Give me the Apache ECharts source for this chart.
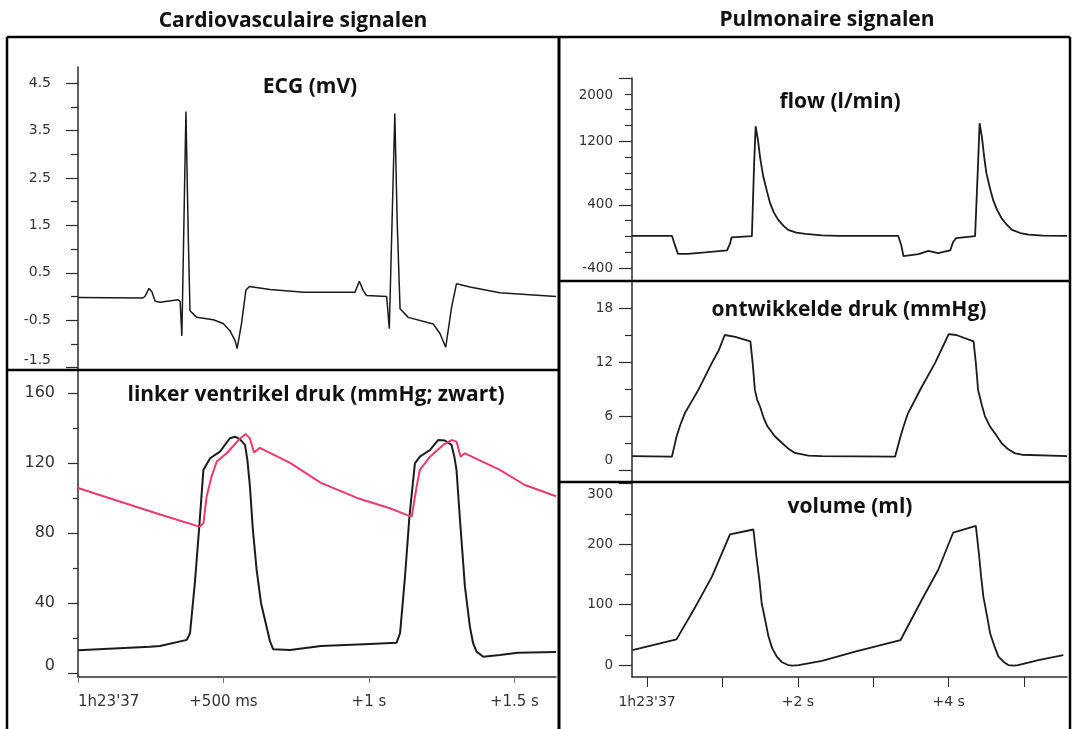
<!DOCTYPE html>
<html>
<head>
<meta charset="utf-8">
<title>Cardiovasculaire en pulmonaire signalen</title>
<script src="https://cdn.jsdelivr.net/npm/echarts@6/dist/echarts.min.js"></script>
<style>
  html, body { margin: 0; padding: 0; background: #fff; }
  #main { width: 1075px; height: 729px; }
</style>
</head>
<body>
<div id="main"></div>
<script>
// ---- data ----
// left column: time in s since 1h23'37
const ecgTime = [0.000, 0.223, 0.230, 0.244, 0.254, 0.265, 0.282, 0.344, 0.351, 0.357, 0.371, 0.379, 0.385, 0.408,
  0.465, 0.499, 0.522, 0.540, 0.547, 0.562, 0.577, 0.589, 0.660, 0.777, 0.952, 0.967, 0.980, 0.992, 1.061, 1.070,
  1.089, 1.097, 1.107, 1.135, 1.221, 1.244, 1.264, 1.284, 1.301, 1.347, 1.450, 1.643]
const ecgMv = [-0.02, -0.03, 0.00, 0.17, 0.10, -0.10, -0.12, -0.07, -0.10, -0.83, 3.90, 1.27, -0.30, -0.44,
  -0.49, -0.57, -0.72, -0.93, -1.10, -0.57, 0.13, 0.21, 0.15, 0.09, 0.09, 0.32, 0.13, 0.02, 0.00, -0.68,
  3.86, 1.60, -0.26, -0.44, -0.58, -0.78, -1.07, -0.23, 0.27, 0.20, 0.08, 0.00]

const lvpTime = [0.000, 0.247, 0.282, 0.374, 0.385, 0.402, 0.417, 0.431, 0.454, 0.488, 0.522, 0.540, 0.557, 0.574,
  0.582, 0.591, 0.601, 0.614, 0.629, 0.648, 0.660, 0.671, 0.729, 0.835, 1.003, 1.095, 1.107, 1.124, 1.139, 1.158,
  1.175, 1.210, 1.238, 1.261, 1.284, 1.293, 1.301, 1.313, 1.330, 1.347, 1.358, 1.370, 1.393, 1.450, 1.512, 1.643]
const lvpBlack = [13, 15, 15.4, 18.9, 22.7, 52, 84, 116, 122.7, 126.5, 134.1, 135, 133.5, 130.3,
  122, 106.5, 82, 58.9, 40, 26.5, 18, 13.5, 13.1, 15.4, 16.6, 17.3, 22.7, 55, 89, 119.8,
  123.6, 127.4, 133.1, 132.8, 130.3, 124, 116, 87.4, 49.3, 26.5, 17, 12.2, 9.3, 10.3, 11.5, 12]

const aoTime = [0.000, 0.282, 0.417, 0.431, 0.442, 0.459, 0.477, 0.512, 0.557, 0.577, 0.591, 0.605, 0.625, 0.729,
  0.835, 0.959, 1.072, 1.130, 1.147, 1.164, 1.175, 1.210, 1.255, 1.284, 1.301, 1.315, 1.330, 1.450, 1.536, 1.643]
const aoRed = [105.7, 90.5, 83.6, 85.5, 100.7, 112.2, 120.8, 125.7, 134, 136.5, 134, 126, 128.6, 120,
  108.6, 100, 94.1, 90.3, 89.3, 106.5, 116, 123.6, 130.3, 133.1, 132.2, 123.6, 125.5, 116, 107.4, 101]

// right column: time in s since 1h23'37
const flowTime = [-0.20, 0.33, 0.36, 0.41, 0.54, 0.77, 1.06, 1.10, 1.12, 1.39, 1.42, 1.44, 1.47, 1.50, 1.54, 1.59,
  1.63, 1.68, 1.74, 1.81, 1.87, 1.98, 2.10, 2.32, 2.54, 3.33, 3.37, 3.40, 3.60, 3.73, 3.86, 4.02, 4.06, 4.10,
  4.35, 4.39, 4.41, 4.44, 4.47, 4.50, 4.55, 4.59, 4.64, 4.70, 4.77, 4.84, 4.95, 5.06, 5.25, 5.57]
const flowValues = [10, 10, -80, -218, -218, -200, -175, -90, -10, 5, 930, 1390, 1220, 990, 760, 570,
  425, 305, 210, 135, 85, 50, 34, 15, 10, 10, -105, -245, -220, -180, -210, -175, -65, -20,
  5, 930, 1430, 1260, 1010, 800, 600, 460, 340, 235, 150, 85, 45, 25, 12, 10]

const drukTime = [-0.20, 0.33, 0.36, 0.39, 0.44, 0.50, 0.59, 0.68, 0.77, 0.86, 0.95, 1.03, 1.17, 1.37, 1.40, 1.43,
  1.46, 1.50, 1.55, 1.60, 1.70, 1.79, 1.87, 1.96, 2.14, 2.32, 3.29, 3.36, 3.40, 3.46, 3.64, 3.82, 4.00, 4.10,
  4.33, 4.36, 4.39, 4.44, 4.48, 4.55, 4.62, 4.70, 4.79, 4.88, 4.97, 5.57]
const drukValues = [1.55, 1.5, 2.6, 3.7, 5.0, 6.3, 7.6, 8.9, 10.4, 11.9, 13.3, 15, 14.8, 14.3, 11.9, 8.9,
  7.8, 7.0, 5.7, 4.8, 3.7, 3.0, 2.4, 1.9, 1.6, 1.55, 1.5, 3.7, 4.8, 6.3, 9.2, 11.9, 15.1, 15,
  14.3, 11.9, 8.9, 7.2, 6.0, 4.8, 4.0, 3.0, 2.3, 1.85, 1.7, 1.55]

const volumeTime = [-0.195, 0.39, 0.64, 0.86, 1.10, 1.41, 1.45, 1.49, 1.52, 1.57, 1.61, 1.66, 1.72, 1.79, 1.87,
  1.93, 2.01, 2.32, 2.76, 3.36, 3.64, 3.86, 4.06, 4.36, 4.40, 4.43, 4.46, 4.51, 4.55, 4.61, 4.66, 4.73, 4.79,
  4.86, 4.92, 5.19, 5.52]
const volumeValues = [24.8, 42.4, 96, 146, 216, 224, 179, 140, 102, 72, 47, 27.5, 14, 4.5, 0,
  -1, 0, 7, 22, 41, 107, 157, 219, 230, 185, 146, 113, 80, 52, 30, 14, 5, 0,
  -1, 0, 8, 16.5]

// ---- ticks ----
const ecgLabels = [-1.5, -0.5, 0.5, 1.5, 2.5, 3.5, 4.5]
const ecgMinor = [-1, 0, 1, 2, 3, 4]
const lvpLabels = [0, 40, 80, 120, 160]
const lvpMinor = [20, 60, 100, 140]
const flowLabels = [-400, 400, 1200, 2000]
const flowMinor = [-200, 0, 200, 600, 800, 1000, 1400, 1600, 1800]
const drukLabels = [0, 6, 12, 18]
const drukMinor = [3, 9, 15]
const volumeLabels = [0, 100, 200, 300]
const volumeMinor = [50, 150, 250]

const leftTimeTicks = [0, 0.5, 1, 1.5]
const leftTimeLabels = ["1h23'37", '+500 ms', '+1 s', '+1.5 s']
const rightTimeTicks = [0, 1, 2, 3, 4, 5]
const rightTimeLabelTicks = [0, 2, 4]
const rightTimeLabels = ["1h23'37", '+2 s', '+4 s']

// ---- styling ----
const ink = '#1b1b1b'
const axisInk = '#2b2b2b'
const labelInk = '#333'
const tickFont = 'DejaVu Sans'
const titleFont = '"Open Sans"'

const pairs = (xs, ys) => xs.map((x, i) => [x, ys[i]])

// one labelled axis plus one tick-only axis per panel (long and short ticks)
const yAxes = (gridIndex, min, max, labels, minor, o) => {
  const rich = {
    s: {
      fontFamily: tickFont, fontSize: o.fontSize, color: labelInk,
      padding: o.shiftPx > 0 ? [2 * o.shiftPx, 0, 0, 0] : [0, 0, -2 * o.shiftPx, 0]
    }
  }
  return [{
    type: 'value', gridIndex, min, max, position: 'left',
    axisLine: {show: true, onZero: false, lineStyle: {color: axisInk, width: 1.5}},
    axisTick: {show: true, customValues: labels, length: o.tickLen, lineStyle: {color: axisInk, width: 1.2}},
    axisLabel: {
      customValues: labels, margin: o.margin, fontFamily: tickFont, fontSize: o.fontSize, color: labelInk,
      formatter: v => {
        const txt = o.fmt ? o.fmt(v) : String(v)
        return v === o.shiftValue ? '{s|' + txt + '}' : txt
      },
      rich
    },
    splitLine: {show: false}
  }, {
    type: 'value', gridIndex, min, max, position: 'left',
    axisLine: {show: false, onZero: false},
    axisTick: {show: true, customValues: minor, length: o.minorLen, lineStyle: {color: axisInk, width: 1.2}},
    axisLabel: {show: false},
    splitLine: {show: false}
  }]
}

const leftMax = 1.643
const rightMin = -0.2
const rightMax = 5.569

const line = (x1, y1, x2, y2, w) => ({
  type: 'line', silent: true, z: 10,
  shape: {x1, y1, x2, y2},
  style: {stroke: '#000', lineWidth: w}
})
const title = (text, x, y, size) => ({
  type: 'text', silent: true, z: 10, x, y,
  style: {
    text, fill: '#111', font: 'bold ' + size + 'px ' + titleFont,
    textAlign: 'center', textVerticalAlign: 'middle', align: 'center', verticalAlign: 'middle'
  }
})

const chart = echarts.init(document.getElementById('main'))

const option = {
  animation: false,
  backgroundColor: '#fff',
  grid: [
    {left: 78, top: 67, width: 478, height: 303},
    {left: 78, top: 370, width: 478, height: 307},
    {left: 632, top: 78, width: 435, height: 203},
    {left: 632, top: 281, width: 435, height: 201},
    {left: 632, top: 482, width: 435, height: 195}
  ],
  xAxis: [
    {type: 'value', gridIndex: 0, min: 0, max: leftMax, show: false},
    {
      type: 'value', gridIndex: 1, min: 0, max: leftMax,
      axisLine: {onZero: false, lineStyle: {color: axisInk, width: 1.5}},
      axisTick: {customValues: leftTimeTicks, length: 6, lineStyle: {color: '#777'}},
      axisLabel: {
        customValues: leftTimeTicks, margin: 18, alignMinLabel: 'left',
        fontFamily: tickFont, fontSize: 15, color: labelInk,
        formatter: v => leftTimeLabels[leftTimeTicks.indexOf(v)]
      },
      splitLine: {show: false}
    },
    {type: 'value', gridIndex: 2, min: rightMin, max: rightMax, show: false},
    {type: 'value', gridIndex: 3, min: rightMin, max: rightMax, show: false},
    {
      type: 'value', gridIndex: 4, min: rightMin, max: rightMax,
      axisLine: {onZero: false, lineStyle: {color: axisInk, width: 1.5}},
      axisTick: {customValues: rightTimeTicks, length: 10, lineStyle: {color: axisInk}},
      axisLabel: {
        customValues: rightTimeLabelTicks, margin: 18,
        fontFamily: tickFont, fontSize: 14, color: labelInk,
        formatter: v => rightTimeLabels[rightTimeLabelTicks.indexOf(v)]
      },
      splitLine: {show: false}
    }
  ],
  yAxis: [
    ...yAxes(0, -1.55, 4.84, ecgLabels, ecgMinor,
      {tickLen: 12, minorLen: 7, margin: 27, fontSize: 14, fmt: v => v.toFixed(1), shiftValue: -1.5, shiftPx: -7}),
    ...yAxes(1, -2.3, 173.1, lvpLabels, lvpMinor,
      {tickLen: 10, minorLen: 5, margin: 23, fontSize: 16, shiftValue: 0, shiftPx: -7}),
    ...yAxes(2, -560, 2000, flowLabels, flowMinor,
      {tickLen: 13, minorLen: 7, margin: 19, fontSize: 13.5, shiftValue: 2000, shiftPx: 17}),
    ...yAxes(3, -1.33, 21, drukLabels, drukMinor,
      {tickLen: 13, minorLen: 7, margin: 19, fontSize: 13.5, shiftValue: 0, shiftPx: -10}),
    ...yAxes(4, -19.8, 302.5, volumeLabels, volumeMinor,
      {tickLen: 13, minorLen: 7, margin: 19, fontSize: 13.5, shiftValue: 300, shiftPx: 11})
  ],
  series: [
    {
      name: 'ECG', type: 'line', xAxisIndex: 0, yAxisIndex: 0, data: pairs(ecgTime, ecgMv),
      showSymbol: false, lineStyle: {color: ink, width: 1.5}
    },
    {
      name: 'linker ventrikel druk', type: 'line', xAxisIndex: 1, yAxisIndex: 2, data: pairs(lvpTime, lvpBlack),
      showSymbol: false, lineStyle: {color: ink, width: 2}
    },
    {
      name: 'aortadruk', type: 'line', xAxisIndex: 1, yAxisIndex: 2, data: pairs(aoTime, aoRed),
      showSymbol: false, lineStyle: {color: '#ec3a6c', width: 2}
    },
    {
      name: 'flow', type: 'line', xAxisIndex: 2, yAxisIndex: 4, data: pairs(flowTime, flowValues),
      showSymbol: false, lineStyle: {color: ink, width: 1.8}
    },
    {
      name: 'ontwikkelde druk', type: 'line', xAxisIndex: 3, yAxisIndex: 6, data: pairs(drukTime, drukValues),
      showSymbol: false, lineStyle: {color: ink, width: 1.8}
    },
    {
      name: 'volume', type: 'line', xAxisIndex: 4, yAxisIndex: 8, data: pairs(volumeTime, volumeValues),
      showSymbol: false, lineStyle: {color: ink, width: 1.8}
    }
  ],
  graphic: [
    line(7, 37, 1070, 37, 2.5),
    line(7, 37, 7, 729, 2.5),
    line(559, 37, 559, 729, 3),
    line(1070, 37, 1070, 729, 2.5),
    line(7, 370, 559, 370, 2.5),
    line(559, 281, 1070, 281, 2.5),
    line(559, 482, 1070, 482, 2.5),
    title('Cardiovasculaire signalen', 293, 21, 21),
    title('Pulmonaire signalen', 827, 20, 21),
    title('ECG (mV)', 310, 87, 21),
    title('linker ventrikel druk (mmHg; zwart)', 316, 395, 21),
    title('flow (l/min)', 840, 102, 21),
    title('ontwikkelde druk (mmHg)', 849, 310, 21),
    title('volume (ml)', 850, 507, 21)
  ]
}

option && chart.setOption(option)
</script>
</body>
</html>
